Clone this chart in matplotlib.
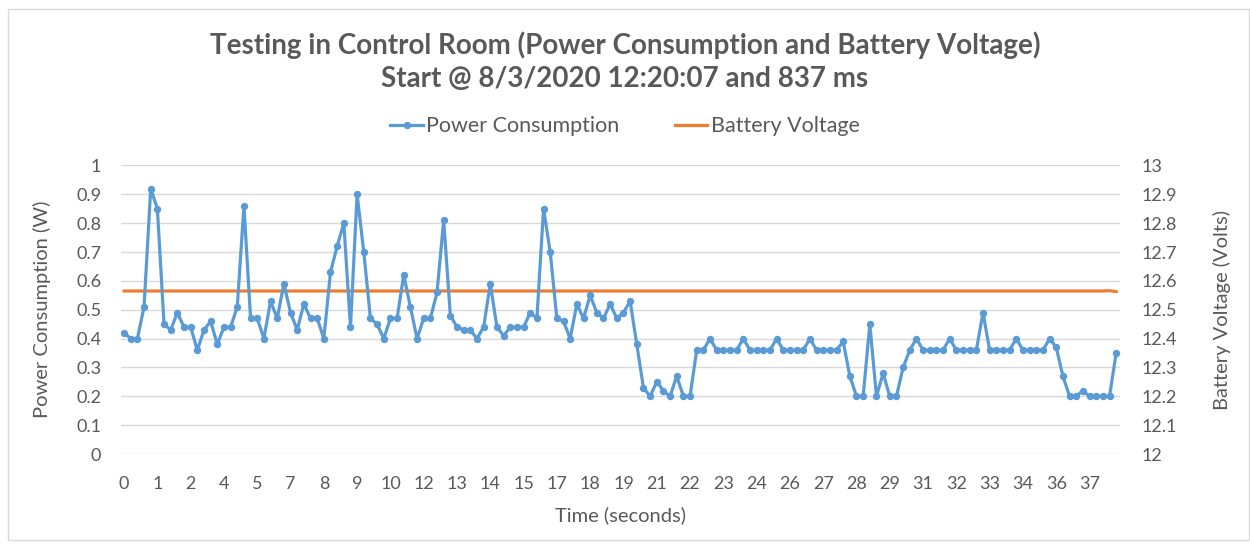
import matplotlib.pyplot as plt
from matplotlib.patches import Rectangle

# power readings (W), one per sample
power = [
    0.42, 0.40, 0.40, 0.51, 0.92, 0.85, 0.45, 0.43, 0.49, 0.44,
    0.44, 0.36, 0.43, 0.46, 0.38, 0.44, 0.44, 0.51, 0.86, 0.47,
    0.47, 0.40, 0.53, 0.47, 0.59, 0.49, 0.43, 0.52, 0.47, 0.47,
    0.40, 0.63, 0.72, 0.80, 0.44, 0.90, 0.70, 0.47, 0.45, 0.40,
    0.47, 0.47, 0.62, 0.51, 0.40, 0.47, 0.47, 0.56, 0.81, 0.48,
    0.44, 0.43, 0.43, 0.40, 0.44, 0.59, 0.44, 0.41, 0.44, 0.44,
    0.44, 0.49, 0.47, 0.85, 0.70, 0.47, 0.46, 0.40, 0.52, 0.47,
    0.55, 0.49, 0.47, 0.52, 0.47, 0.49, 0.53, 0.38, 0.23, 0.20,
    0.25, 0.22, 0.20, 0.27, 0.20, 0.20, 0.36, 0.36, 0.40, 0.36,
    0.36, 0.36, 0.36, 0.40, 0.36, 0.36, 0.36, 0.36, 0.40, 0.36,
    0.36, 0.36, 0.36, 0.40, 0.36, 0.36, 0.36, 0.36, 0.39, 0.27,
    0.20, 0.20, 0.45, 0.20, 0.28, 0.20, 0.20, 0.30, 0.36, 0.40,
    0.36, 0.36, 0.36, 0.36, 0.40, 0.36, 0.36, 0.36, 0.36, 0.49,
    0.36, 0.36, 0.36, 0.36, 0.40, 0.36, 0.36, 0.36, 0.36, 0.40,
    0.37, 0.27, 0.20, 0.20, 0.22, 0.20, 0.20, 0.20, 0.20, 0.35,
]
# battery stays flat for the whole run
voltage = [12.565] * 148 + [12.566, 12.563]

# category labels shown under every 5th sample
tick_labels = ["0", "1", "2", "4", "5", "7", "8", "9", "10", "12",
               "13", "14", "15", "17", "18", "19", "21", "22", "23", "24",
               "26", "27", "28", "29", "31", "32", "33", "34", "36", "37"]

blue = "#5B9BD5"
orange = "#ED7D31"
grey = "#595959"
plt.rcParams['font.family'] = ['Lato', 'DejaVu Sans']

fig = plt.figure(figsize=(12.5, 5.44), dpi=100)
fig.patches.append(Rectangle((0.006, 0.008), 0.993, 0.975, transform=fig.transFigure,
                             fill=False, edgecolor="#D9D9D9", lw=1))

ax = fig.add_axes([0.0966, 0.1654, 0.799, 0.5304])
ax2 = ax.twinx()

idx = list(range(len(power)))
l1, = ax.plot(idx, power, color=blue, lw=2.3, marker="o", markersize=4.3, label="Power Consumption", zorder=3)
l2, = ax2.plot(idx, voltage, color=orange, lw=2.3, label="Battery Voltage", zorder=2)

ax.set_xlim(-0.5, len(power) - 0.5)
ax.set_ylim(0, 1)
ax2.set_ylim(12, 13)
ax.set_yticks([i / 10 for i in range(11)])
ax.set_yticklabels(["0", "0.1", "0.2", "0.3", "0.4", "0.5", "0.6", "0.7", "0.8", "0.9", "1"])
ax2.set_yticks([12 + i / 10 for i in range(11)])
ax2.set_yticklabels(["12", "12.1", "12.2", "12.3", "12.4", "12.5", "12.6", "12.7", "12.8", "12.9", "13"])
ax.set_xticks(idx[::5])
ax.set_xticklabels(tick_labels)

ax.grid(axis="y", color="#D9D9D9", lw=1)
ax.set_axisbelow(True)
ax.set_zorder(ax2.get_zorder() + 1)
ax.patch.set_visible(False)
for a in (ax, ax2):
    for s in a.spines.values():
        s.set_visible(False)
    a.tick_params(length=0, labelsize=13, labelcolor=grey)
ax.tick_params(axis="y", pad=14)
ax2.tick_params(axis="y", pad=16)
ax.tick_params(axis="x", pad=16)

ax.set_xlabel("Time (seconds)", fontsize=14.5, color=grey, labelpad=10)
ax.set_ylabel("Power Consumption (W)", fontsize=14.5, color=grey, labelpad=18)
ax2.set_ylabel("Battery Voltage (Volts)", fontsize=14.5, color=grey, labelpad=26)

fig.text(0.5, 0.917, "Testing in Control Room (Power Consumption and Battery Voltage)",
         ha="center", va="center", fontsize=20, fontweight="bold", color=grey)
fig.text(0.5, 0.854, "Start @ 8/3/2020 12:20:07 and 837 ms",
         ha="center", va="center", fontsize=20, fontweight="bold", color=grey)
fig.legend(handles=[l1, l2], loc="center", bbox_to_anchor=(0.5, 0.768), ncol=2, frameon=False,
           fontsize=15.5, labelcolor=grey, handlelength=1.5, handletextpad=0.15, columnspacing=2.6)

fig.savefig("out.png", dpi=100)
